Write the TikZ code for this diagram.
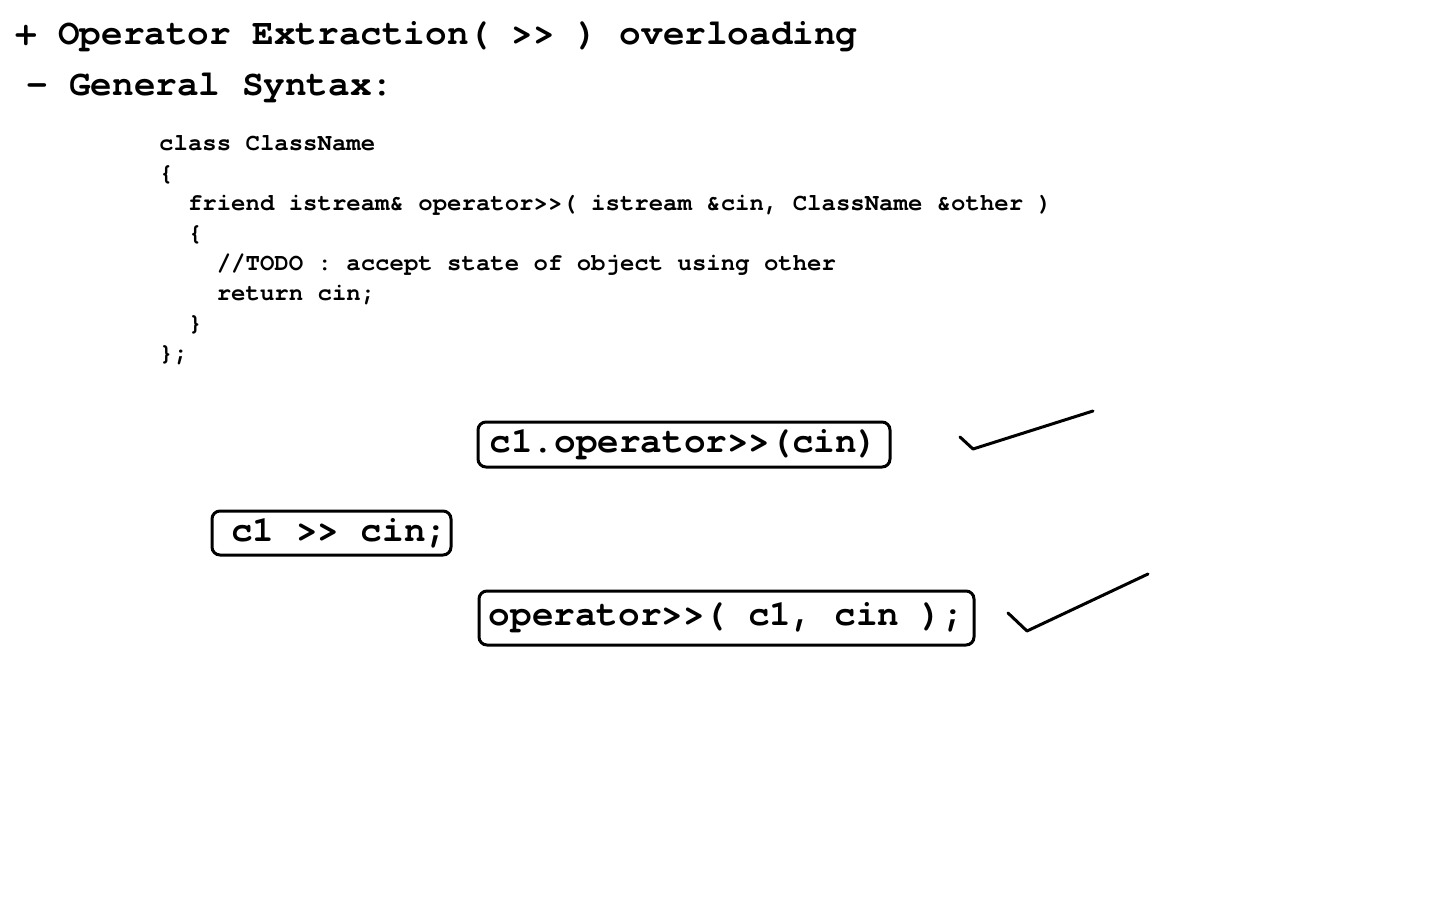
\documentclass[tikz,border=0pt]{standalone}
\usepackage{fontspec}
\setmonofont{TeX Gyre Cursor}
\usetikzlibrary{positioning}

\begin{document}
\frenchspacing
\begin{tikzpicture}[x=1pt,y=-1pt,
  big/.style={font=\ttfamily\bfseries\fontsize{36}{36}\selectfont, inner sep=0pt},
  code/.style={font=\ttfamily\bfseries\fontsize{24}{30}\selectfont, inner sep=0pt, anchor=base west},
  callbox/.style={draw, line width=3pt, rounded corners=8pt, font=\ttfamily\bfseries\fontsize{36}{36}\selectfont, inner sep=0pt},
  tick/.style={line width=3pt, line join=round, line cap=round}]

\useasboundingbox[fill=white] (0,0) rectangle (1440,900);

% Heading
\path
(15,44)     node[big, anchor=base west]  (head) {+ Operator Extraction( >> ) overloading}
(26,95)     node[big, anchor=base west]  (sub) {- General Syntax:}
;

% Syntax
\path
(159,150)       node[code]  (l1) {class ClassName}
(159,180)       node[code]  (l2) {\{}
(187.8,210)     node[code]  (l3) {friend istream\& operator>>( istream \&cin, ClassName \&other )}
(187.8,240)     node[code]  (l4) {\{}
(216.6,270)     node[code]  (l5) {//TODO : accept state of object using other}
(216.6,300)     node[code]  (l6) {return cin;}
(187.8,330)     node[code]  (l7) {\}}
(159,360)       node[code]  (l8) {\};}
;

% Calls
\node[callbox, minimum width=412pt, minimum height=45pt] (member) at (684,444.5) {c1.operator>>(cin)};
\node[callbox, minimum width=239pt, minimum height=44pt] (call) at (331.5,533) {};
\node[big, anchor=east] (calltext) at ([xshift=-5pt]call.east) {c1 >> cin;};
\node[callbox, minimum width=495pt, minimum height=54pt] (friendcall) at (726.5,618) {operator>>( c1, cin );};

% Ticks
\draw[tick] (960,437) -- (973,449) -- (1093,411);
\draw[tick] (1008,613) -- (1027,631) -- (1148,574);

\end{tikzpicture}
\end{document}
